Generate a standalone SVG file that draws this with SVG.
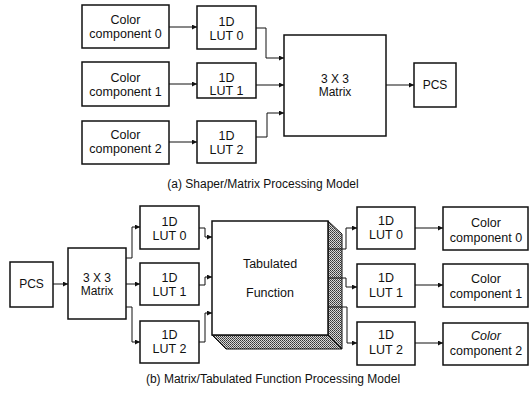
<svg xmlns="http://www.w3.org/2000/svg" width="529" height="394" viewBox="0 0 529 394">
<defs>
<marker id="ah" markerUnits="userSpaceOnUse" markerWidth="6" markerHeight="6" refX="5" refY="2.5" orient="auto">
<path d="M0,0 L5,2.5 L0,5 z" fill="#111"/>
</marker>
<pattern id="dither" patternUnits="userSpaceOnUse" width="2" height="2">
<rect width="2" height="2" fill="#d8d8d8"/>
<rect width="1" height="1" fill="#333"/>
<rect x="1" y="1" width="1" height="1" fill="#555"/>
</pattern>
<style>
.box{fill:#fff;stroke:#111;stroke-width:1.5}
.t{font-family:"Liberation Sans",Arial,sans-serif;font-size:12.5px;fill:#111;text-anchor:middle}
.s{font-size:12px}
.cap{font-family:"Liberation Sans",Arial,sans-serif;font-size:12px;fill:#111;text-anchor:middle}
.c{fill:none;stroke:#111;stroke-width:1;marker-end:url(#ah)}
.shade{fill:url(#dither);stroke:#111;stroke-width:1}
</style>
</defs>
<rect width="529" height="394" fill="#fff"/>

<!-- (a) -->
<g id="a-comp0"><rect class="box" x="82" y="5" width="87" height="43"/><text class="t" x="125.5" y="24">Color</text><text class="t" x="125.5" y="38">component 0</text></g>
<g id="a-comp1"><rect class="box" x="82" y="62" width="87" height="44"/><text class="t" x="125.5" y="82">Color</text><text class="t" x="125.5" y="96">component 1</text></g>
<g id="a-comp2"><rect class="box" x="82" y="121" width="87" height="43"/><text class="t" x="125.5" y="139">Color</text><text class="t" x="125.5" y="153">component 2</text></g>
<g id="a-lut0"><rect class="box" x="197" y="6" width="59" height="43"/><text class="t" x="226.5" y="26">1D</text><text class="t" x="226.5" y="40">LUT 0</text></g>
<g id="a-lut1"><rect class="box" x="197" y="63" width="59" height="35"/><text class="t" x="226.5" y="82">1D</text><text class="t" x="226.5" y="95">LUT 1</text></g>
<g id="a-lut2"><rect class="box" x="197" y="121" width="59" height="42"/><text class="t" x="226.5" y="140">1D</text><text class="t" x="226.5" y="154">LUT 2</text></g>
<g id="a-matrix"><rect class="box" x="284" y="35" width="102" height="101"/><text class="t s" x="335" y="83">3 X 3</text><text class="t s" x="335" y="96">Matrix</text></g>
<g id="a-pcs"><rect class="box" x="414" y="63" width="42" height="44"/><text class="t s" x="435" y="89">PCS</text></g>
<text class="cap" x="263" y="188">(a) Shaper/Matrix Processing Model</text>

<!-- (b) -->
<g id="b-pcs"><rect class="box" x="10" y="262" width="43" height="45"/><text class="t s" x="31.5" y="288">PCS</text></g>
<g id="b-matrix"><rect class="box" x="68" y="248" width="58" height="71"/><text class="t s" x="97" y="282">3 X 3</text><text class="t s" x="97" y="295">Matrix</text></g>
<g id="b-lutin0"><rect class="box" x="140" y="206" width="59" height="43"/><text class="t" x="169.5" y="226">1D</text><text class="t" x="169.5" y="240">LUT 0</text></g>
<g id="b-lutin1"><rect class="box" x="140" y="263" width="59" height="42"/><text class="t" x="169.5" y="282">1D</text><text class="t" x="169.5" y="296">LUT 1</text></g>
<g id="b-lutin2"><rect class="box" x="140" y="321" width="59" height="42"/><text class="t" x="169.5" y="339">1D</text><text class="t" x="169.5" y="353">LUT 2</text></g>
<g id="b-tab">
<polygon class="shade" points="328,221 342,234 342,349 328,335"/>
<polygon class="shade" points="212,335 226,349 342,349 328,335"/>
<rect class="box" x="212" y="221" width="116" height="114"/>
<text class="t" x="270" y="268">Tabulated</text><text class="t" x="270" y="297">Function</text>
</g>
<g id="b-lutout0"><rect class="box" x="357" y="207" width="58" height="42"/><text class="t" x="386" y="225">1D</text><text class="t" x="386" y="239">LUT 0</text></g>
<g id="b-lutout1"><rect class="box" x="357" y="264" width="58" height="43"/><text class="t" x="386" y="282">1D</text><text class="t" x="386" y="297">LUT 1</text></g>
<g id="b-lutout2"><rect class="box" x="357" y="322" width="58" height="43"/><text class="t" x="386" y="339">1D</text><text class="t" x="386" y="354">LUT 2</text></g>
<g id="b-comp0"><rect class="box" x="443" y="207" width="85" height="43"/><text class="t" x="486" y="227">Color</text><text class="t" x="486" y="242">component 0</text></g>
<g id="b-comp1"><rect class="box" x="443" y="264" width="85" height="43"/><text class="t" x="486" y="283">Color</text><text class="t" x="486" y="298">component 1</text></g>
<g id="b-comp2"><rect class="box" x="443" y="323" width="85" height="42"/><text class="t" x="486" y="340" font-style="italic">Color</text><text class="t" x="486" y="355">component 2</text></g>
<text class="cap" x="273" y="383">(b) Matrix/Tabulated Function Processing Model</text>

<g id="connectors">
<path class="c" d="M169,27 H197"/>
<path class="c" d="M169,84 H197"/>
<path class="c" d="M169,142 H197"/>
<path class="c" d="M256,28 H266 V58 H284"/>
<path class="c" d="M256,85 H284"/>
<path class="c" d="M256,137 H267 V113 H284"/>
<path class="c" d="M386,85 H414"/>
<path class="c" d="M53,284 H68"/>
<path class="c" d="M126,258 H132 V227 H140"/>
<path class="c" d="M126,284 H140"/>
<path class="c" d="M126,307 H132 V342 H140"/>
<path class="c" d="M199,228 H205 V237 H212"/>
<path class="c" d="M199,285 H205 V277 H212"/>
<path class="c" d="M199,342 H205 V313 H212"/>
<path class="c" d="M328,249 H346 V228 H357"/>
<path class="c" d="M328,278 H346 V287 H357"/>
<path class="c" d="M328,307 H347 V343 H357"/>
<path class="c" d="M415,228 H443"/>
<path class="c" d="M415,285 H443"/>
<path class="c" d="M415,343 H443"/>
</g>
</svg>
